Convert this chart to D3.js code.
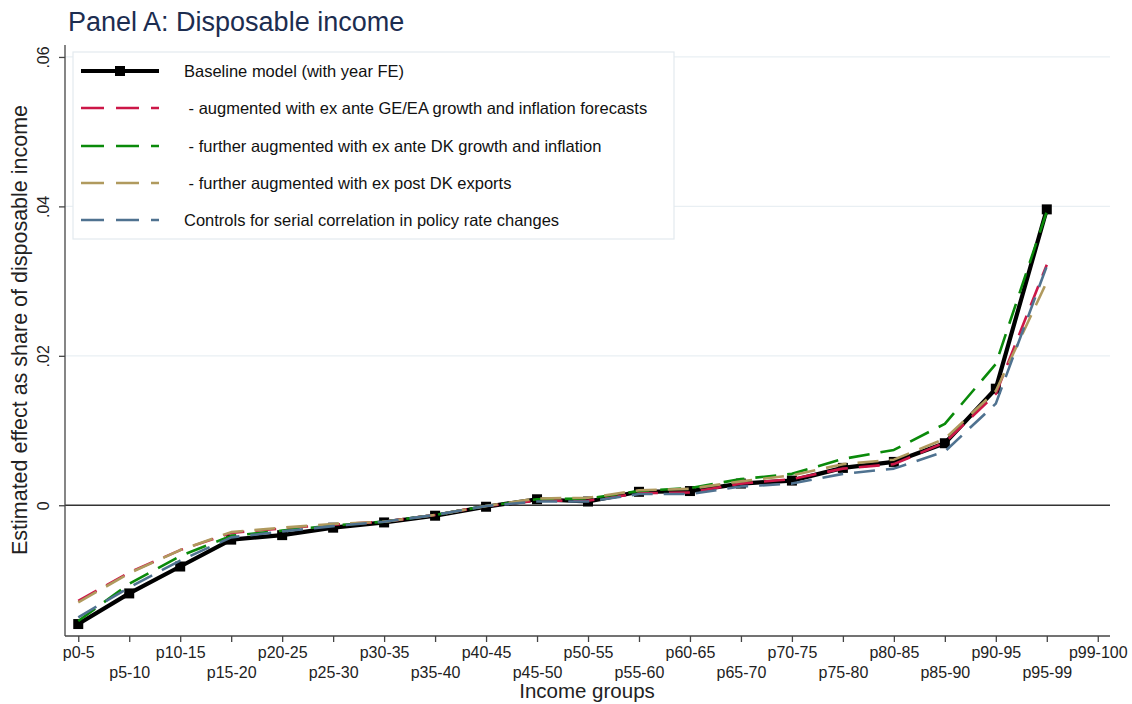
<!DOCTYPE html>
<html>
<head>
<meta charset="utf-8">
<script src="https://cdn.jsdelivr.net/npm/d3@7"></script>
<style>
  html, body { margin: 0; padding: 0; background: #fff; }
  svg { display: block; font-family: "Liberation Sans", Arial, sans-serif; }
</style>
</head>
<body>
<svg id="chart" width="1132" height="704"></svg>
<script>
// ---- Data ----
const categories = ["p0-5","p5-10","p10-15","p15-20","p20-25","p25-30","p30-35","p35-40","p40-45","p45-50",
  "p50-55","p55-60","p60-65","p65-70","p70-75","p75-80","p80-85","p85-90","p90-95","p95-99","p99-100"];

const baseline   = [-0.0159,-0.0118,-0.0082,-0.0046,-0.0040,-0.0030,-0.0023,-0.0014,-0.0002,0.0008,
                    0.0005,0.0018,0.0019,0.0029,0.0033,0.0050,0.0058,0.0083,0.0156,0.0396];
const augGE      = [-0.0128,-0.0090,-0.0060,-0.0037,-0.0031,-0.0026,-0.0022,-0.0013,-0.0001,0.0006,
                    0.0006,0.0016,0.0017,0.0029,0.0035,0.0049,0.0055,0.0084,0.0149,0.0322];
const augDK      = [-0.0155,-0.0105,-0.0068,-0.0041,-0.0034,-0.0027,-0.0022,-0.0013,-0.0001,0.0008,
                    0.0009,0.0019,0.0023,0.0035,0.0042,0.0062,0.0074,0.0109,0.0189,0.0393];
const augExports = [-0.0130,-0.0091,-0.0060,-0.0036,-0.0030,-0.0025,-0.0022,-0.0013,-0.0001,0.0009,
                    0.0010,0.0020,0.0022,0.0032,0.0040,0.0055,0.0061,0.0089,0.0153,0.0299];
const serialCorr = [-0.0150,-0.0110,-0.0074,-0.0043,-0.0035,-0.0028,-0.0022,-0.0013,-0.0001,0.0005,
                    0.0005,0.0015,0.0015,0.0025,0.0029,0.0042,0.0049,0.0072,0.0136,0.0320];

const seriesNames = ["Baseline model (with year FE)",
  " - augmented with ex ante GE/EA growth and inflation forecasts",
  " - further augmented with ex ante DK growth and inflation",
  " - further augmented with ex post DK exports",
  "Controls for serial correlation in policy rate changes"];
const yTicks = [0, 0.02, 0.04, 0.06];
const yTickLabels = ["0", ".02", ".04", ".06"];

// ---- Styles ----
const colors = ["#000000", "#cc1747", "#0a8a0a", "#b09a5e", "#4f7290"];
const allSeries = [baseline, augGE, augDK, augExports, serialCorr];

const svg = d3.select("#chart");
const pL = 65, pR = 1110, pT = 45, pB = 636;

const x = d3.scaleLinear().domain([-0.26, 20.24]).range([pL, pR]);
const y = d3.scaleLinear().domain([-0.0175, 0.0616]).range([pB, pT]);

// title
svg.append("text").attr("x", 68).attr("y", 31)
  .attr("font-size", 27).attr("fill", "#1c2d50")
  .text("Panel A: Disposable income");

// gridlines
svg.append("g").selectAll("line").data(yTicks.filter(d => d !== 0)).join("line")
  .attr("x1", pL).attr("x2", pR)
  .attr("y1", d => y(d)).attr("y2", d => y(d))
  .attr("stroke", "#e9eff3").attr("stroke-width", 1.3);

// zero line
svg.append("line").attr("x1", pL).attr("x2", pR)
  .attr("y1", y(0)).attr("y2", y(0)).attr("stroke", "#333").attr("stroke-width", 1.4);

// y axis
const yAxis = d3.axisLeft(y).tickValues(yTicks).tickSize(6)
  .tickFormat((d, i) => yTickLabels[i]);
const gy = svg.append("g").attr("transform", `translate(${pL},0)`).call(yAxis);
gy.select(".domain").attr("stroke", "#444").attr("stroke-width", 1.3)
  .attr("d", `M0,${pT}V${pB}`);
gy.selectAll(".tick line").attr("stroke", "#444").attr("stroke-width", 1.3);
gy.selectAll(".tick text")
  .attr("font-size", 16).attr("fill", "#222")
  .attr("font-family", "Liberation Sans, Arial, sans-serif")
  .attr("text-anchor", "middle")
  .attr("transform", "rotate(-90)")
  .attr("x", 0).attr("dx", null).attr("dy", null)
  .attr("y", -16);

// x axis
const xAxis = d3.axisBottom(x).tickValues(d3.range(categories.length)).tickSize(6)
  .tickFormat(i => categories[i]);
const gx = svg.append("g").attr("transform", `translate(0,${pB})`).call(xAxis);
gx.select(".domain").attr("stroke", "#444").attr("stroke-width", 1.3)
  .attr("d", `M${pL},0H${pR}`);
gx.selectAll(".tick line").attr("stroke", "#444").attr("stroke-width", 1.3);
gx.selectAll(".tick text")
  .attr("font-size", 16).attr("fill", "#222")
  .attr("font-family", "Liberation Sans, Arial, sans-serif")
  .attr("dy", null)
  .attr("y", (d, i) => i % 2 === 0 ? 22 : 42);

// axis titles
svg.append("text").attr("x", 587).attr("y", 698).attr("text-anchor", "middle")
  .attr("font-size", 20.5).attr("fill", "#222").text("Income groups");
svg.append("text").attr("transform", "translate(27,330) rotate(-90)")
  .attr("text-anchor", "middle").attr("font-size", 21.5).attr("fill", "#222")
  .text("Estimated effect as share of disposable income");

// lines
const line = d3.line().x((d, i) => x(i)).y(d => y(d));
const g = svg.append("g");
allSeries.forEach((s, k) => {
  g.append("path").datum(s).attr("d", line)
    .attr("fill", "none").attr("stroke", colors[k])
    .attr("stroke-width", k === 0 ? 4.2 : 2.6)
    .attr("stroke-dasharray", k === 0 ? null : "21,11")
    .attr("stroke-linejoin", "round");
  if (k === 0) {
    g.selectAll("rect.mk").data(s).join("rect").attr("class", "mk")
      .attr("x", (d, i) => x(i) - 5).attr("y", d => y(d) - 5)
      .attr("width", 10).attr("height", 10).attr("fill", "#000");
  }
});

// legend
const lg = svg.append("g");
lg.append("rect").attr("x", 73).attr("y", 52).attr("width", 601).attr("height", 187)
  .attr("fill", "#fff").attr("stroke", "#e3eaef").attr("stroke-width", 1.2);
const entryY = [71, 108, 146, 183, 220];
seriesNames.forEach((name, k) => {
  const yy = entryY[k];
  lg.append("line").attr("x1", 81).attr("x2", 159).attr("y1", yy).attr("y2", yy)
    .attr("stroke", colors[k]).attr("stroke-width", k === 0 ? 4.2 : 2.6)
    .attr("stroke-dasharray", k === 0 ? null : "23,12");
  if (k === 0) {
    lg.append("rect").attr("x", 115).attr("y", yy - 5).attr("width", 10).attr("height", 10).attr("fill", "#000");
  }
  lg.append("text").attr("x", 184).attr("y", yy + 6).attr("font-size", 16.5)
    .attr("fill", "#111").attr("xml:space", "preserve").style("white-space", "pre").text(name);
});
</script>
</body>
</html>
